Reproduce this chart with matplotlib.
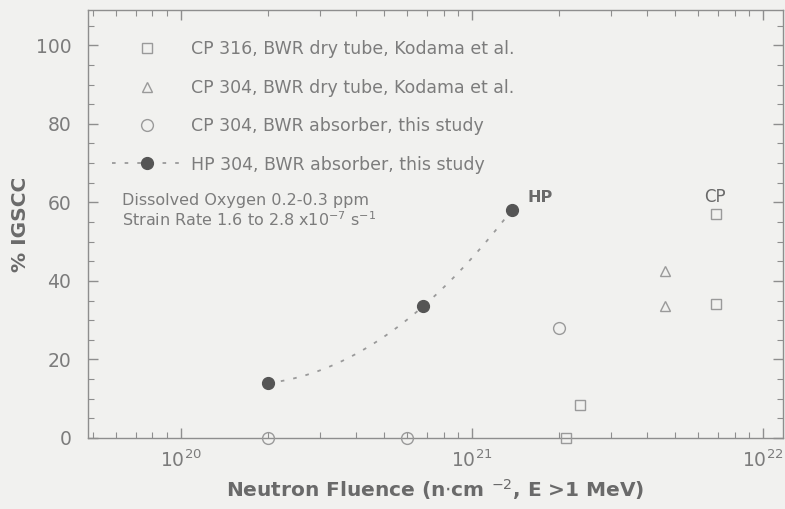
import numpy as np
import matplotlib
matplotlib.use('Agg')
import matplotlib.pyplot as plt
from matplotlib.ticker import LogLocator, MultipleLocator, NullFormatter

# IGSCC data vs neutron fluence (n/cm^2)
cp316_fluence = [2.1e21, 2.35e21, 6.9e21, 6.9e21]
cp316_igscc = [0, 8.5, 34, 57]

cp304_dry_fluence = [4.6e21, 4.6e21]
cp304_dry_igscc = [33.5, 42.5]

cp304_abs_fluence = [2.0e20, 6.0e20, 2.0e21]
cp304_abs_igscc = [0, 0, 28]

hp304_fluence = [2.0e20, 6.8e20, 1.37e21]
hp304_igscc = [14, 33.5, 58]

TEXT = '#7c7c7c'
AXIS = '#8e8e8e'
BG = '#f1f1ef'

plt.rcParams['font.family'] = ['DejaVu Sans']

fig = plt.figure(figsize=(7.85, 5.09), dpi=100, facecolor=BG)
ax = fig.add_axes([0.112, 0.1395, 0.885, 0.841], facecolor=BG)

ax.set_xscale('log')
ax.set_xlim(4.8e19, 1.17e22)
ax.set_ylim(0, 109)

# smooth trend through the HP points (quadratic in log fluence)
lx = np.log10(hp304_fluence)
coef = np.polyfit(lx, hp304_igscc, 2)
xs = np.linspace(lx[0], lx[-1], 100)
ax.plot(10 ** xs, np.polyval(coef, xs), ls=(0, (2, 5)), color='#9a9a9a', lw=1.3, zorder=2)

ms = 7.5
ax.plot(cp316_fluence, cp316_igscc, 's', mfc='none', mec='#9a9a9a', ms=ms, mew=1.0,
        label='CP 316, BWR dry tube, Kodama et al.', clip_on=False, zorder=3)
ax.plot(cp304_dry_fluence, cp304_dry_igscc, '^', mfc='none', mec='#9a9a9a', ms=ms, mew=1.0,
        label='CP 304, BWR dry tube, Kodama et al.', clip_on=False, zorder=3)
ax.plot(cp304_abs_fluence, cp304_abs_igscc, 'o', mfc='none', mec='#9a9a9a', ms=ms + 1, mew=1.0,
        label='CP 304, BWR absorber, this study', clip_on=False, zorder=3)
ax.plot(hp304_fluence, hp304_igscc, 'o', color='#555555', ms=ms + 1, zorder=4)
ax.plot([], [], ls=(0, (2, 5)), color='#9a9a9a', lw=1.3, marker='o', mfc='#555555',
        mec='#555555', ms=ms + 1, label='HP 304, BWR absorber, this study')

leg = ax.legend(loc='upper left', bbox_to_anchor=(0.012, 0.966), frameon=False,
                fontsize=12.5, handlelength=4.0, handletextpad=0.57, labelspacing=1.18,
                labelcolor=TEXT)

ax.text(0.049, 0.545, 'Dissolved Oxygen 0.2-0.3 ppm', transform=ax.transAxes,
        fontsize=11.5, color=TEXT)
ax.text(0.049, 0.496, 'Strain Rate 1.6 to 2.8 x10$^{-7}$ s$^{-1}$', transform=ax.transAxes,
        fontsize=11.5, color=TEXT)
ax.text(1.55e21, 60, 'HP', fontsize=11.5, fontweight='bold', color='#6a6a6a')
ax.text(6.3e21, 60, 'CP', fontsize=12, color='#6a6a6a')

# axes styling
for sp in ax.spines.values():
    sp.set_color(AXIS)
    sp.set_linewidth(1.0)

ax.xaxis.set_major_locator(LogLocator(base=10, numticks=10))
ax.xaxis.set_minor_locator(LogLocator(base=10, subs=np.arange(2, 10), numticks=20))
ax.xaxis.set_minor_formatter(NullFormatter())
ax.yaxis.set_major_locator(MultipleLocator(20))
ax.yaxis.set_minor_locator(MultipleLocator(5))

ax.tick_params(which='both', direction='in', top=True, right=True, colors=AXIS,
               labelcolor=TEXT, labelsize=13.5)
ax.tick_params(which='major', length=7, width=1.0, pad=12)
ax.tick_params(which='minor', length=4, width=0.8)
ax.tick_params(axis='x', which='major', pad=8)

ax.set_xlabel('Neutron Fluence (n$\\cdot$cm $^{-2}$, E >1 MeV)', fontsize=14.5,
              fontweight='bold', color='#6a6a6a', labelpad=5)
ax.set_ylabel('% IGSCC', fontsize=14.5, fontweight='bold', color='#6a6a6a', labelpad=4)

fig.savefig('out.png', dpi=100, facecolor=BG)
